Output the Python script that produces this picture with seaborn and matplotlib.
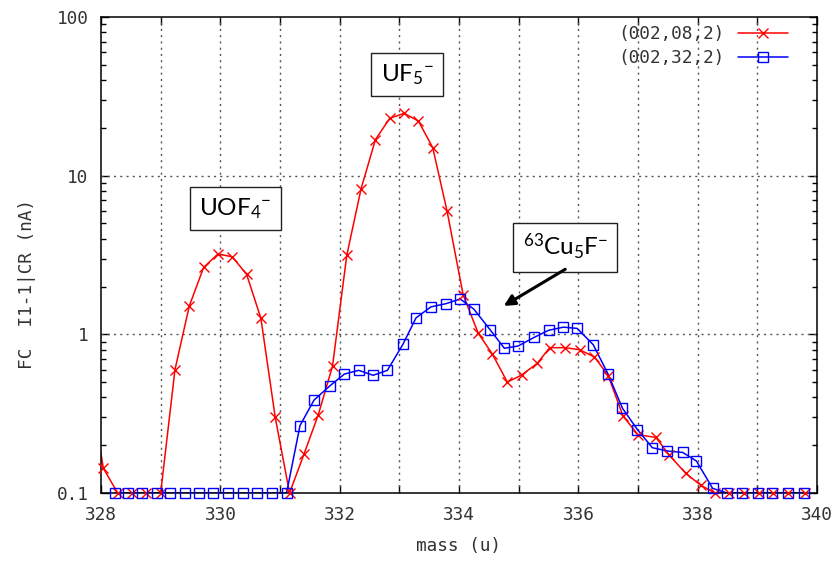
import matplotlib
matplotlib.use("Agg")
import matplotlib.pyplot as plt
import seaborn as sns
import pandas as pd
from matplotlib.lines import Line2D
from matplotlib.ticker import FixedLocator, FixedFormatter, NullFormatter

# ---------------- data ----------------
red_mass = [327.80, 328.04, 328.28, 328.52, 328.76, 329.00, 329.24, 329.48, 329.72, 329.96,
            330.20, 330.44, 330.68, 330.92, 331.16, 331.40, 331.64, 331.88, 332.12, 332.36,
            332.60, 332.84, 333.08, 333.32, 333.56, 333.80, 334.07, 334.32, 334.56, 334.81,
            335.05, 335.31, 335.52, 335.78, 336.02, 336.27, 336.50, 336.75, 337.00, 337.30,
            337.52, 337.80, 338.05, 338.29, 338.53, 338.77, 339.02, 339.27, 339.52, 339.80]
red_current = [0.50, 0.143, 0.1, 0.1, 0.1, 0.1, 0.60, 1.51, 2.64, 3.21,
               3.08, 2.39, 1.26, 0.30, 0.1, 0.175, 0.31, 0.63, 3.16, 8.3,
               16.9, 23.0, 24.7, 22.1, 15.0, 5.98, 1.77, 1.02, 0.75, 0.50,
               0.554, 0.656, 0.824, 0.824, 0.80, 0.72, 0.55, 0.305, 0.233, 0.224,
               0.174, 0.133, 0.112, 0.1, 0.1, 0.1, 0.1, 0.1, 0.1, 0.1]

blue_mass = [328.23, 328.45, 328.69, 328.94, 329.16, 329.41, 329.64, 329.88, 330.13, 330.38,
             330.61, 330.86, 331.11, 331.335, 331.57, 331.84, 332.08, 332.32, 332.56, 332.80,
             333.06, 333.28, 333.53, 333.78, 334.02, 334.25, 334.52, 334.76, 334.99, 335.26,
             335.50, 335.75, 335.98, 336.25, 336.50, 336.74, 336.99, 337.24, 337.49, 337.75,
             337.98, 338.25, 338.49, 338.74, 339.01, 339.25, 339.51, 339.78]
blue_current = [0.1, 0.1, 0.1, 0.1, 0.1, 0.1, 0.1, 0.1, 0.1, 0.1,
                0.1, 0.1, 0.1, 0.266, 0.385, 0.475, 0.562, 0.593, 0.552, 0.593,
                0.865, 1.27, 1.49, 1.56, 1.67, 1.44, 1.07, 0.817, 0.844, 0.957,
                1.06, 1.11, 1.09, 0.86, 0.56, 0.342, 0.251, 0.193, 0.184, 0.180,
                0.159, 0.107, 0.1, 0.1, 0.1, 0.1, 0.1, 0.1]

series_labels = ["(002,08,2)", "(002,32,2)"]
x_ticks = [328, 329, 330, 331, 332, 333, 334, 335, 336, 337, 338, 339, 340]
x_tick_labels = ["328", "", "330", "", "332", "", "334", "", "336", "", "338", "", "340"]
y_ticks = [0.1, 1, 10, 100]
y_tick_labels = ["0.1", "1", "10", "100"]
x_label = "mass (u)"
y_label = "FC  I1-1|CR (nA)"

# annotations: (text, x, y)
peak_labels = [
    (r"UOF$_4$$^{-}$", 330.25, 6.2),
    (r"UF$_5$$^{-}$", 333.13, 43.5),
    (r"$^{63}$Cu$_5$F$^{-}$", 335.78, 3.54),
]
arrow_tail = (335.78, 2.57)
arrow_head = (334.75, 1.51)

# ---------------- style ----------------
sns.set_theme(style="white")
plt.rcParams["font.family"] = ["DejaVu Sans Mono", "DejaVu Sans"]
plt.rcParams["mathtext.default"] = "regular"

RED = "#ff0000"
BLUE = "#0000ff"
FS = 12.8

fig = plt.figure(figsize=(8.4, 5.63), dpi=100)
ax = fig.add_axes([101 / 840, 70 / 563, 716 / 840, 476 / 563])
ax.set_yscale("log")

red_df = pd.DataFrame({"mass": red_mass, "current": red_current})
blue_df = pd.DataFrame({"mass": blue_mass, "current": blue_current})
red_in = red_df[red_df["mass"] >= 328]

# lines (clipped)
sns.lineplot(data=red_df, x="mass", y="current", color=RED, lw=1.1, ax=ax,
             estimator=None, legend=False)
sns.lineplot(data=blue_df, x="mass", y="current", color=BLUE, lw=1.1, ax=ax,
             estimator=None, legend=False)
# markers (not clipped, as in the reference)
sns.lineplot(data=red_in, x="mass", y="current", ax=ax, estimator=None, legend=False,
             linestyle="none", marker="x", markersize=7, markeredgecolor=RED,
             markerfacecolor=RED, markeredgewidth=1.0, clip_on=False, zorder=4)
sns.lineplot(data=blue_df, x="mass", y="current", ax=ax, estimator=None, legend=False,
             linestyle="none", marker="s", markersize=6.5, markeredgecolor=BLUE,
             markerfacecolor="none", markeredgewidth=1.0, clip_on=False, zorder=4)

ax.set_xlim(328, 340)
ax.set_ylim(0.1, 100)

# ticks
ax.xaxis.set_major_locator(FixedLocator(x_ticks))
ax.xaxis.set_major_formatter(FixedFormatter(x_tick_labels))
ax.yaxis.set_major_locator(FixedLocator(y_ticks))
ax.yaxis.set_major_formatter(FixedFormatter(y_tick_labels))
minor_y = [m * d for d in (0.1, 1, 10) for m in range(2, 10)]
ax.yaxis.set_minor_locator(FixedLocator(minor_y))
ax.yaxis.set_minor_formatter(NullFormatter())
ax.tick_params(axis="both", which="major", direction="in", length=6, width=1,
               color="black", top=True, right=True, bottom=True, left=True,
               labelsize=FS, labelcolor="#333333", pad=9)
ax.tick_params(axis="y", which="minor", direction="in", length=3.5, width=1,
               color="black", left=True, right=True)

for s in ax.spines.values():
    s.set_color("black")
    s.set_linewidth(1.1)

# grid
for xv in x_ticks[1:-1]:
    ax.axvline(xv, color="#555555", lw=1.0, dashes=(1.5, 3), zorder=1)
for yv in y_ticks[1:-1]:
    ax.axhline(yv, color="#555555", lw=1.0, dashes=(1.5, 3), zorder=1)

ax.set_xlabel(x_label, fontsize=FS, color="#333333", labelpad=10)
ax.set_ylabel(y_label, fontsize=FS, color="#333333")
ax.yaxis.set_label_coords(-0.091, 0.44)

# legend
handles = [
    Line2D([], [], color=RED, lw=1.1, marker="x", markersize=7, markeredgewidth=1.0),
    Line2D([], [], color=BLUE, lw=1.1, marker="s", markersize=6.5,
           markerfacecolor="none", markeredgewidth=1.0),
]
ax.legend(handles, series_labels, loc="upper right", frameon=False, markerfirst=False,
          fontsize=FS, handlelength=2.8, handletextpad=0.8, labelspacing=0.32,
          borderaxespad=0.0, borderpad=0.3, labelcolor="#333333",
          bbox_to_anchor=(0.967, 0.994))

# peak labels
for txt, xv, yv in peak_labels:
    ax.text(xv, yv, txt, ha="center", va="center", fontsize=17.5, family="Lato",
            color="black", zorder=6,
            bbox=dict(boxstyle="square,pad=0.38", fc="white", ec="#222222", lw=1.0))
ax.annotate("", xy=arrow_head, xytext=arrow_tail, zorder=6,
            arrowprops=dict(arrowstyle="-|>", color="black", lw=2.2, mutation_scale=16,
                            shrinkA=0, shrinkB=0))

fig.savefig("out.png", dpi=100)
